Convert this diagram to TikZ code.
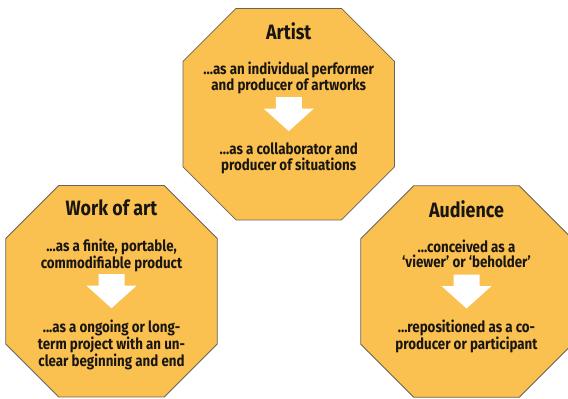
\documentclass[tikz,border=0pt]{standalone}
\usepackage{fontspec}
\setmainfont{Fira Sans}[FakeStretch=0.86]
\definecolor{octfill}{RGB}{250,193,80}
\definecolor{octline}{RGB}{105,98,88}
\definecolor{inktext}{RGB}{25,22,18}
\tikzset{
  font={\fontsize{15.5pt}{15.5pt}\selectfont\bfseries},
  octa/.style={draw=octline, fill=octfill, line width=0.8pt},
  headline/.style={font={\fontsize{20.8pt}{24pt}\selectfont\bfseries}, text=inktext, inner sep=0pt, anchor=north},
  stage/.style={align=center, text=inktext, inner sep=0pt, anchor=north}}

\begin{document}
\begin{tikzpicture}[x=1pt,y=-1pt]
\useasboundingbox (0,0) rectangle (568,399);
\foreach \name/\cx/\cy in {artist/288.75/114.15, work/111.5/291.2, audience/466.5/291.5}{
  \coordinate (\name) at (\cx,\cy);
  \draw [octa] (\name) ++(-52.75,-105.75) -- ++(105.5,0) -- ++(53,53) -- ++(0,105.5)
    -- ++(-53,53) -- ++(-105.5,0) -- ++(-53,-53) -- ++(0,-105.5) -- cycle;
  \fill [white] (\name) ++(-13,-17) -- ++(26,0) -- ++(0,11.5) -- ++(12,0)
    -- ++(-25,22.5) -- ++(-25,-22.5) -- ++(12,0) -- cycle;
}
\node [headline] (artist-title) at ([yshift=91.5pt]artist) {Artist};
\node [stage] (artist-before) at ([yshift=52pt]artist) {...as an individual performer\\and producer of artworks};
\node [stage] (artist-after) at ([yshift=-28.5pt]artist) {...as a collaborator and\\producer of situations};
\node [headline] (work-title) at ([yshift=91.5pt]work) {Work of art};
\node [stage] (work-before) at ([yshift=52pt]work) {...as a finite, portable,\\commodifiable product};
\node [stage] (work-after) at ([yshift=-28.5pt]work) {...as a ongoing or long-\\term project with an un-\\clear beginning and end};
\node [headline] (audience-title) at ([yshift=91.5pt]audience) {Audience};
\node [stage] (audience-before) at ([yshift=52pt]audience) {...conceived as a\\‘viewer’ or ‘beholder’};
\node [stage] (audience-after) at ([yshift=-28.5pt]audience) {...repositioned as a co-\\producer or participant};
\end{tikzpicture}
\end{document}
